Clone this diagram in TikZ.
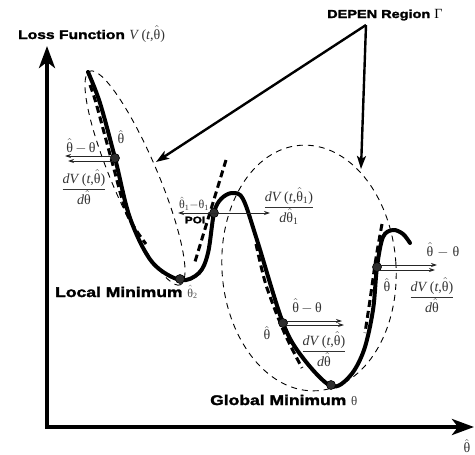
\documentclass[tikz,border=0pt]{standalone}
\usepackage{fontspec}
\usetikzlibrary{arrows.meta}
\newfontfamily\tms{Liberation Serif}
\newfontfamily\blk{Liberation Sans Bold}[FakeStretch=1.25,FakeBold=2]
\newcommand\Th{θ}
\newcommand\Thh{$\hat{\hbox{θ}}$}
\newcommand\Fr[2]{$\displaystyle\frac{\hbox{#1}}{\hbox{#2}}$}
\begin{document}
\begin{tikzpicture}[x=1pt,y=-1pt,
  lbl/.style={font=\tms\fontsize{14}{16}\selectfont, text=black!80, inner sep=0pt},
  lbls/.style={font=\tms\fontsize{12}{14}\selectfont, text=black!80, inner sep=0pt},
  bold/.style={font=\blk\fontsize{14}{16}\selectfont, inner sep=0pt, anchor=base west},
  curve/.style={line width=4pt, line cap=round, line join=round},
  hdash/.style={line width=3pt, dash pattern=on 7pt off 4pt},
  tdash/.style={line width=0.9pt, dash pattern=on 6pt off 5pt},
  axis/.style={line width=4pt, {Stealth[length=22pt,width=16pt,inset=6pt]}-{Stealth[length=22pt,width=16pt,inset=6pt]}},
  ptr/.style={line width=2.4pt, -{Stealth[length=13pt,width=9pt,inset=3pt]}},
  small/.style={line width=0.8pt, draw=black!85, -{Stealth[length=6pt,width=4pt]}},
  smallb/.style={line width=0.8pt, draw=black!85, {Stealth[length=6pt,width=4pt]}-{Stealth[length=6pt,width=4pt]}},
  dot/.style={circle, fill=black!82, draw=black, line width=0.6pt, minimum size=9pt, inner sep=0pt}]
\useasboundingbox (0,0) rectangle (475,455);
% axes
\coordinate (Ytop) at (47,46);
\coordinate (O) at (47,427);
\coordinate (Xend) at (474,427);
\draw[axis] (Ytop) -- (O) -- (Xend);
% thin dashed regions
\draw[tdash, rotate around={-67:(135,178)}] (135,178) ellipse [x radius=116, y radius=23];
\draw[tdash, rotate around={4:(309,268)}] (309,268) ellipse [x radius=87, y radius=123];
% heavy dashed approximations
\draw[hdash] plot[smooth] coordinates {(90,85) (96,103) (111,158) (127,214) (146,244)};
\coordinate (t1) at (226,160);
\coordinate (t2) at (194,265);
\draw[hdash] (t1) -- (t2);
\draw[hdash] plot[smooth] coordinates {(256,244) (266,285) (284,332) (302,368)};
\draw[hdash] plot[smooth] coordinates {(382,224) (376,258) (370,300) (365,333)};
% main curve
\draw[curve] plot[smooth, tension=0.55] coordinates {(88,72) (100,103) (115,158) (130,218) (152,262) (180,280) (199,273) (208,253) (214,213) (221,199) (232,193) (243,199) (257,240) (283,323) (303,358) (331,386) (350,376) (364,350) (373,310) (377,267) (383,237) (393,230) (403,234) (410,243)};
% dots
\node[dot] (pA) at (115,158) {};
\node[dot] (pB) at (214,213) {};
\node[dot] (pC) at (283,323) {};
\node[dot] (pD) at (377,267) {};
\node[dot] (pL) at (180,279) {};
\node[dot] (pG) at (331,385) {};
% small arrows
\coordinate (a0) at (113,156); \coordinate (a1) at (65,156);
\coordinate (a2) at (113,161); \coordinate (a3) at (68,161);
\draw[small] (a0) -- (a1);
\draw[small] (a2) -- (a3);
\coordinate (b1) at (178,213); \coordinate (b2) at (270,213);
\draw[smallb] (b1) -- (b2);
\coordinate (c0) at (285,321); \coordinate (c1) at (342,321);
\coordinate (c2) at (285,325); \coordinate (c3) at (344,325);
\draw[small] (c0) -- (c1);
\draw[small] (c2) -- (c3);
\coordinate (d0) at (379,265); \coordinate (d1) at (437,265);
\coordinate (d2) at (379,270); \coordinate (d3) at (435,270);
\draw[small] (d0) -- (d1);
\draw[small] (d2) -- (d3);
% DEPEN pointers
\node[bold, font=\blk\fontsize{11.6}{13}\selectfont] (dep) at (327,18) {DEPEN Region {\tms\fontsize{14}{16}\selectfont Γ}};
\coordinate (src) at (366,25);
\coordinate (tipL) at (156,162);
\coordinate (tipR) at (361,169);
\draw[ptr] (src) -- (tipL);
\draw[ptr] (src) -- (tipR);
% labels
\node[bold, font=\blk\fontsize{12.5}{14}\selectfont] (ylab) at (18,39) {Loss Function {\tms\fontsize{14}{16}\selectfont\color{black!80}\textit{V}\,(\textit{t},\Thh)}};
\node[lbl] (xlab) at (467,446) {\Thh};
\node[bold] (lmin) at (55,297) {Local Minimum {\tms\fontsize{12}{14}\selectfont\color{black!70}\Thh\textsubscript{2}}};
\node[bold] (gmin) at (210,405) {Global Minimum {\tms\fontsize{13}{14}\selectfont\color{black!75}θ}};
\node[font=\blk\fontsize{9.5}{11}\selectfont, inner sep=0pt] (poi) at (195,220) {POI};
% A
\node[lbl] (dA) at (81,146) {\Thh$\,-\,$\Th};
\node[lbl] (hA) at (121,137) {\Thh};
\node[lbl] (fA) at (84,187) {\Fr{\textit{dV}\,(\textit{t},\Thh)}{\textit{d}\Thh}};
% B
\node[lbls] (dB) at (194,204) {\Thh\textsubscript{1}$-$\Th\textsubscript{1}};
\node[lbl] (fB) at (289,206) {\Fr{\textit{dV}\,(\textit{t},\Thh\textsubscript{1})}{\textit{d}\Thh\textsubscript{1}}};
% C
\node[lbl] (dC) at (307,306) {\Thh$\,-\,$\Th};
\node[lbl] (hC) at (267,333) {\Thh};
\node[lbl] (fC) at (324,349) {\Fr{\textit{dV}\,(\textit{t},\Thh)}{\textit{d}\Thh}};
% D
\node[lbl] (dD) at (443,250) {\Thh$\;-\;$\Th};
\node[lbl] (hD) at (387,285) {\Thh};
\node[lbl] (fD) at (432,295) {\Fr{\textit{dV}\,(\textit{t},\Thh)}{\textit{d}\Thh}};
\end{tikzpicture}
\end{document}
